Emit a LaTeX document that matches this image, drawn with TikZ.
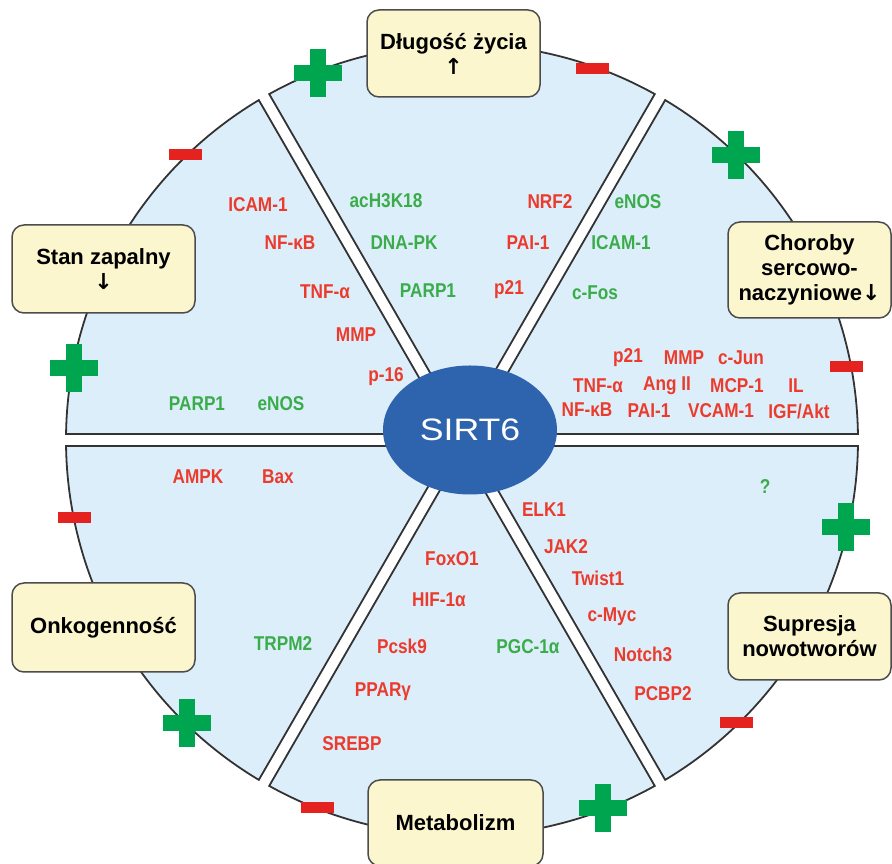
\documentclass[tikz,border=0pt]{standalone}
\usepackage{fontspec}
\setmainfont{Liberation Sans}
\newfontfamily\labfont[FakeStretch=0.86]{Liberation Sans}
\newfontfamily\arrfont{DejaVu Sans}
\usetikzlibrary{shapes.geometric}
\definecolor{secfill}{HTML}{DDEEFB}
\definecolor{boxfill}{HTML}{FBF6CE}
\definecolor{ellfill}{HTML}{2E63AE}
\definecolor{labred}{HTML}{EB3B2C}
\definecolor{labgreen}{HTML}{3AAC4A}
\definecolor{plusgreen}{HTML}{00A64F}
\definecolor{minusred}{HTML}{E42320}
\tikzset{
  sector/.style={fill=secfill, draw=black!80, line width=1.8pt, line join=miter},
  effbox/.style={draw=black!70, line width=1.5pt, fill=boxfill, rounded corners=12pt,
    inner sep=0pt, align=center, font=\fontsize{22}{25}\selectfont\bfseries},
  lr/.style={text=labred, inner sep=0pt, font=\labfont\fontsize{20}{20}\selectfont\bfseries},
  lg/.style={text=labgreen, inner sep=0pt, font=\labfont\fontsize{20}{20}\selectfont\bfseries},
  plusmark/.style={fill=plusgreen},
  minusmark/.style={fill=minusred}
}
\newcommand{\upar}{{\arrfont\bfseries ↑}}
\newcommand{\downar}{{\arrfont\bfseries ↓}}
\newcommand{\plusat}[2]{\fill[plusmark] (#1-24,#2-8) rectangle (#1+24,#2+8); \fill[plusmark] (#1-8,#2-24) rectangle (#1+8,#2+24);}
\newcommand{\minusat}[2]{\fill[minusmark] (#1-16.5,#2-5.5) rectangle (#1+16.5,#2+5.5);}
\begin{document}
\begin{tikzpicture}[x=1pt,y=1pt]
\useasboundingbox (0,0) rectangle (892,864);
\coordinate (C) at (462,424);
% sectors
\foreach \t in {30,90,150,210,270,330}{
  \draw[sector, shift={(C)}] (\t:12pt) -- ({\t-29.13}:396pt)
    arc[start angle={\t-29.13}, end angle={\t+29.13}, radius=396pt] -- cycle;
}
% central ellipse
\node[ellipse, fill=ellfill, minimum width=174pt, minimum height=129pt, inner sep=0pt,
  text=white, font=\fontsize{31}{31}\selectfont] (sirt) at (470,434) {\scalebox{1.15}[1]{SIRT6}};
% boxes
\node[effbox, minimum width=173pt, minimum height=87pt] (dl) at (453.5,810.5) {Długość życia\\\upar};
\node[effbox, minimum width=183pt, minimum height=88pt] (stan) at (103.5,595) {Stan zapalny\\\downar};
\node[effbox, minimum width=163pt, minimum height=96pt] (chor) at (809.5,594) {Choroby\\sercowo-\\naczyniowe\downar};
\node[effbox, minimum width=183pt, minimum height=89pt] (onko) at (103.5,236.5) {Onkogenność};
\node[effbox, minimum width=175pt, minimum height=86pt] (meta) at (455.5,41) {Metabolizm};
\node[effbox, minimum width=163pt, minimum height=87pt] (sup) at (809.5,227.5) {Supresja\\nowotworów};
% plus / minus
\plusat{318}{791}
\plusat{74}{496}
\plusat{736}{709}
\plusat{846}{337}
\plusat{187}{141}
\plusat{603}{56}
\minusat{185}{709}
\minusat{592}{795}
\minusat{846}{497}
\minusat{74}{346}
\minusat{317}{56}
\minusat{736}{141}
% upper-left sector
\node[lr] (ul1) at (258,659) {ICAM-1};
\node[lr] (ul2) at (290,621) {NF-κB};
\node[lr] (ul3) at (325,572) {TNF-α};
\node[lr] (ul4) at (356,529) {MMP};
\node[lr] (ul5) at (386,487) {p-16};
\node[lg] (ul6) at (197,460) {PARP1};
\node[lg] (ul7) at (281,460) {eNOS};
% top sector
\node[lg] (t1) at (386,663) {acH3K18};
\node[lg] (t2) at (404,621) {DNA-PK};
\node[lg] (t3) at (428,573) {PARP1};
\node[lr] (t4) at (550,662) {NRF2};
\node[lr] (t5) at (528,621) {PAI-1};
\node[lr] (t6) at (509,574) {p21};
% upper-right sector
\node[lg] (ur1) at (638,662) {eNOS};
\node[lg] (ur2) at (621,621) {ICAM-1};
\node[lg] (ur3) at (595,571) {c-Fos};
\node[lr] (ur4) at (628,506) {p21};
\node[lr] (ur5) at (684,506) {MMP};
\node[lr] (ur6) at (741,506) {c-Jun};
\node[lr] (ur7) at (598,478) {TNF-α};
\node[lr] (ur8) at (667,478) {Ang II};
\node[lr] (ur9) at (737,478) {MCP-1};
\node[lr] (ur10) at (796,478) {IL};
\node[lr] (ur11) at (587,454) {NF-κB};
\node[lr] (ur12) at (649,453) {PAI-1};
\node[lr] (ur13) at (721,453) {VCAM-1};
\node[lr] (ur14) at (799,453) {IGF/Akt};
% lower-right sector
\node[lg] (lr1) at (765,377) {?};
\node[lr] (lr2) at (544,354) {ELK1};
\node[lr] (lr3) at (566,317) {JAK2};
\node[lr] (lr4) at (598,286) {Twist1};
\node[lr] (lr5) at (612,247) {c-Myc};
\node[lr] (lr6) at (643,210) {Notch3};
\node[lr] (lr7) at (663,170) {PCBP2};
% bottom sector
\node[lr] (b1) at (452,305) {FoxO1};
\node[lr] (b2) at (439,264) {HIF-1α};
\node[lr] (b3) at (402,218) {Pcsk9};
\node[lr] (b4) at (383,172) {PPARγ};
\node[lr] (b5) at (352,120) {SREBP};
\node[lg] (b6) at (528,217) {PGC-1α};
% lower-left sector
\node[lr] (ll1) at (198,387) {AMPK};
\node[lr] (ll2) at (278,387) {Bax};
\node[lg] (ll3) at (283,220) {TRPM2};
\end{tikzpicture}
\end{document}
